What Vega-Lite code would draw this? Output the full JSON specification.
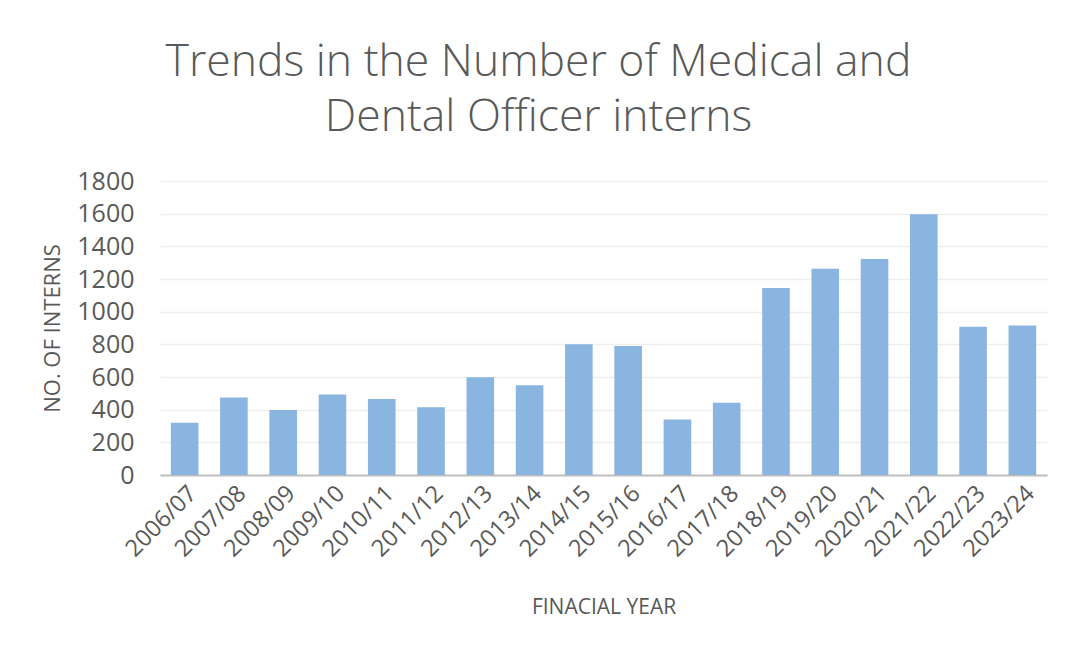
{
  "$schema": "https://vega.github.io/schema/vega-lite/v6.json",
  "width": 887,
  "height": 294,
  "autosize": "none",
  "padding": {"left": 160, "top": 181, "right": 33, "bottom": 192},
  "background": "white",
  "title": {
    "text": ["Trends in the Number of Medical and", "Dental Officer interns"],
    "font": "Open Sans",
    "fontWeight": 300,
    "fontSize": 44.5,
    "color": "#595959",
    "lineHeight": 55,
    "anchor": "middle",
    "dx": -65,
    "offset": 29
  },
  "data": {
    "values": [
      {"year": "2006/07", "interns": 320},
      {"year": "2007/08", "interns": 475},
      {"year": "2008/09", "interns": 398},
      {"year": "2009/10", "interns": 493},
      {"year": "2010/11", "interns": 465},
      {"year": "2011/12", "interns": 415},
      {"year": "2012/13", "interns": 598},
      {"year": "2013/14", "interns": 550},
      {"year": "2014/15", "interns": 800},
      {"year": "2015/16", "interns": 790},
      {"year": "2016/17", "interns": 340},
      {"year": "2017/18", "interns": 442},
      {"year": "2018/19", "interns": 1145},
      {"year": "2019/20", "interns": 1263},
      {"year": "2020/21", "interns": 1323},
      {"year": "2021/22", "interns": 1596},
      {"year": "2022/23", "interns": 908},
      {"year": "2023/24", "interns": 915}
    ]
  },
  "mark": {"type": "bar", "color": "#8AB5E0"},
  "encoding": {
    "x": {
      "field": "year",
      "type": "ordinal",
      "sort": null,
      "scale": {"paddingInner": 0.44, "paddingOuter": 0.22},
      "axis": {
        "title": "FINACIAL YEAR",
        "titleFont": "Open Sans",
        "titleFontWeight": "normal",
        "titleFontSize": 21,
        "titleColor": "#595959",
        "titlePadding": 36,
        "labelAngle": -45,
        "labelFont": "Open Sans",
        "labelFontSize": 23.5,
        "labelColor": "#595959",
        "labelPadding": 6,
        "ticks": false,
        "domainColor": "#BFBFBF",
        "domainWidth": 2
      }
    },
    "y": {
      "field": "interns",
      "type": "quantitative",
      "scale": {"domain": [0, 1800]},
      "axis": {
        "title": "NO. OF INTERNS",
        "titleFont": "Open Sans",
        "titleFontWeight": "normal",
        "titleFontSize": 22,
        "titleColor": "#595959",
        "titlePadding": 12,
        "values": [0, 200, 400, 600, 800, 1000, 1200, 1400, 1600, 1800],
        "format": "d",
        "labelFont": "Open Sans",
        "labelFontSize": 25,
        "labelColor": "#595959",
        "labelPadding": 26,
        "ticks": false,
        "domain": false,
        "gridColor": "#EEEEEE",
        "gridWidth": 1.5
      }
    }
  },
  "config": {"view": {"stroke": null}}
}
